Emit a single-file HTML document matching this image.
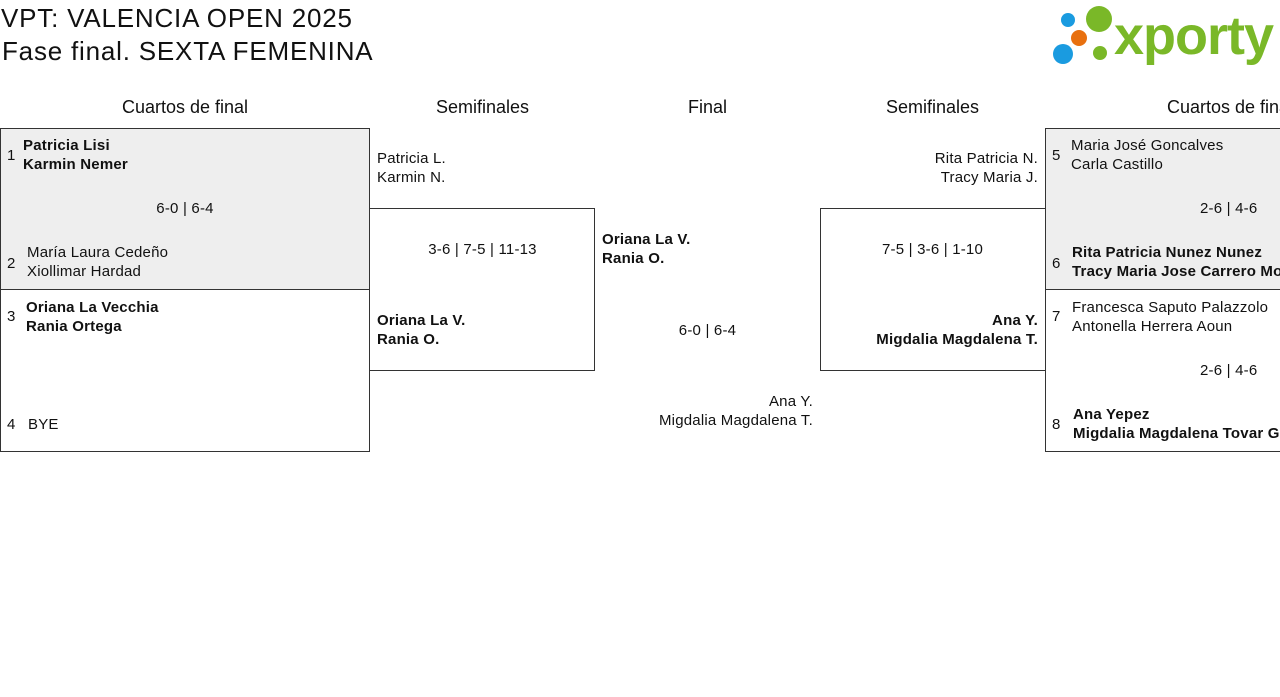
<!DOCTYPE html>
<html><head><meta charset="utf-8"><style>
body{margin:0;width:1280px;height:697px;overflow:hidden;background:#fff;font-family:"Liberation Sans",sans-serif;color:#111;position:relative}
.a{position:absolute;white-space:nowrap;font-size:15px;line-height:19px;letter-spacing:0.2px}
.b{font-weight:bold}
.box{position:absolute;border:1px solid #333;box-sizing:border-box}
.h{position:absolute;font-size:18px;line-height:22px;text-align:center}
</style></head><body>
<div class="a" style="left:1px;top:2px;font-size:26px;line-height:32px;letter-spacing:0.8px">VPT: VALENCIA OPEN 2025</div>
<div class="a" style="left:2px;top:35px;font-size:26px;line-height:32px;letter-spacing:0.8px">Fase final. SEXTA FEMENINA</div>
<svg style="position:absolute;left:1050px;top:4px" width="230" height="64">
<circle cx="49" cy="15" r="13" fill="#7ab828"/><circle cx="18" cy="16" r="7" fill="#1a9be0"/>
<circle cx="29" cy="34" r="8" fill="#e8700f"/><circle cx="13" cy="50" r="10" fill="#1a9be0"/>
<circle cx="50" cy="49" r="7" fill="#7ab828"/>
<text x="64" y="50" font-family="Liberation Sans" font-weight="bold" font-size="54" fill="#7ab828" letter-spacing="-1">xporty</text>
</svg>
<div class="h" style="left:0;width:370px;top:96px">Cuartos de final</div>
<div class="h" style="left:370px;width:225px;top:96px">Semifinales</div>
<div class="h" style="left:595px;width:225px;top:96px">Final</div>
<div class="h" style="left:820px;width:225px;top:96px">Semifinales</div>
<div class="h" style="left:1045px;width:370px;top:96px">Cuartos de final</div>

<div class="box" style="left:0;top:128px;width:370px;height:162px;background:#eee"></div>
<div class="box" style="left:0;top:289px;width:370px;height:163px"></div>
<div class="box" style="left:369px;top:208px;width:226px;height:163px"></div>
<div class="box" style="left:820px;top:208px;width:226px;height:163px"></div>
<div class="box" style="left:1045px;top:128px;width:260px;height:162px;background:#eee"></div>
<div class="box" style="left:1045px;top:289px;width:260px;height:163px"></div>

<div class="a" style="left:7px;top:146px">1</div>
<div class="a b" style="left:23px;top:136px">Patricia Lisi<br>Karmin Nemer</div>
<div class="a" style="left:0;width:370px;text-align:center;top:199px">6-0 | 6-4</div>
<div class="a" style="left:7px;top:254px">2</div>
<div class="a" style="left:27px;top:243px">María Laura Cedeño<br>Xiollimar Hardad</div>
<div class="a" style="left:7px;top:307px">3</div>
<div class="a b" style="left:26px;top:298px">Oriana La Vecchia<br>Rania Ortega</div>
<div class="a" style="left:7px;top:415px">4</div>
<div class="a" style="left:28px;top:415px">BYE</div>

<div class="a" style="left:377px;top:149px">Patricia L.<br>Karmin N.</div>
<div class="a" style="left:370px;width:225px;text-align:center;top:240px">3-6 | 7-5 | 11-13</div>
<div class="a b" style="left:377px;top:311px">Oriana La V.<br>Rania O.</div>

<div class="a b" style="left:602px;top:230px">Oriana La V.<br>Rania O.</div>
<div class="a" style="left:595px;width:225px;text-align:center;top:321px">6-0 | 6-4</div>
<div class="a" style="left:595px;width:218px;text-align:right;top:392px">Ana Y.<br>Migdalia Magdalena T.</div>

<div class="a" style="left:820px;width:218px;text-align:right;top:149px">Rita Patricia N.<br>Tracy Maria J.</div>
<div class="a" style="left:820px;width:225px;text-align:center;top:240px">7-5 | 3-6 | 1-10</div>
<div class="a b" style="left:820px;width:218px;text-align:right;top:311px">Ana Y.<br>Migdalia Magdalena T.</div>

<div class="a" style="left:1052px;top:146px">5</div>
<div class="a" style="left:1071px;top:136px">Maria José Goncalves<br>Carla Castillo</div>
<div class="a" style="left:1200px;top:199px">2-6 | 4-6</div>
<div class="a" style="left:1052px;top:254px">6</div>
<div class="a b" style="left:1072px;top:243px">Rita Patricia Nunez Nunez<br>Tracy Maria Jose Carrero Mora</div>
<div class="a" style="left:1052px;top:307px">7</div>
<div class="a" style="left:1072px;top:298px">Francesca Saputo Palazzolo<br>Antonella Herrera Aoun</div>
<div class="a" style="left:1200px;top:361px">2-6 | 4-6</div>
<div class="a" style="left:1052px;top:415px">8</div>
<div class="a b" style="left:1073px;top:405px">Ana Yepez<br>Migdalia Magdalena Tovar Garcia</div>
</body></html>
